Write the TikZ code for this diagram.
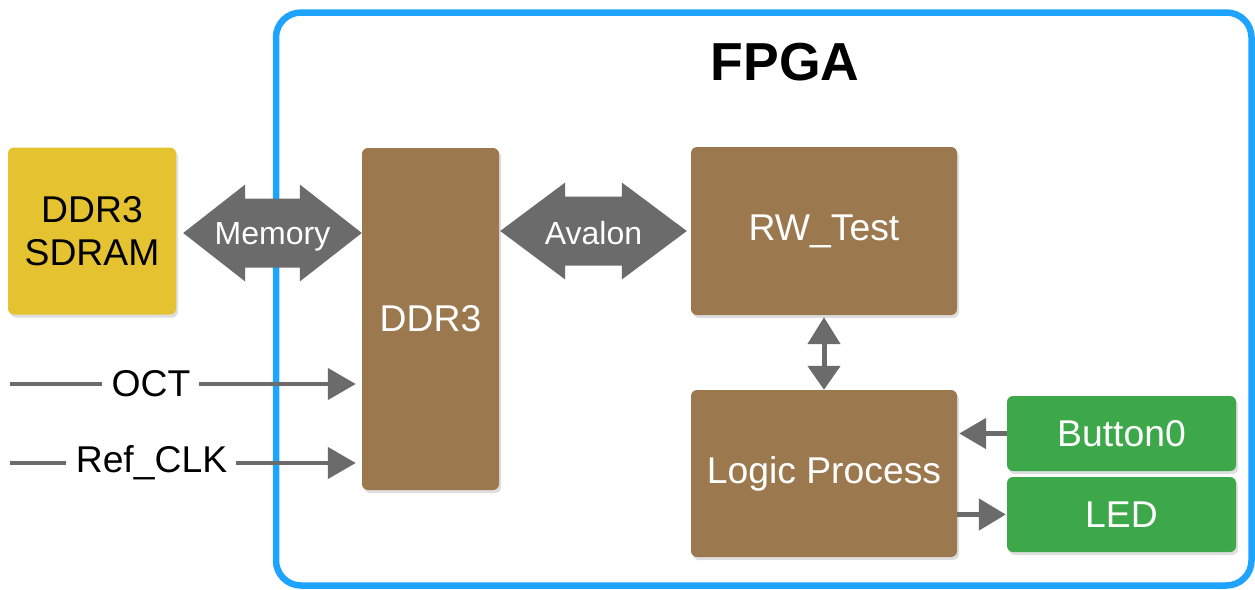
\documentclass[tikz,border=0pt]{standalone}
\usepackage{fontspec}
\setmainfont{Liberation Sans}
\usetikzlibrary{arrows.meta,calc,shadows}
\definecolor{goldbox}{HTML}{E5C230}
\definecolor{brownbox}{HTML}{9C784E}
\definecolor{greenbox}{HTML}{3DA84A}
\definecolor{arrowgray}{HTML}{6B6B6B}
\definecolor{fpgablue}{HTML}{1EA4FF}
\newcommand\fatdoublearrow[3]{%
  \fill[arrowgray] let \p1=(#1), \p2=(#2) in
    (\x1,\y1) -- (\x1+#3,\y1+48.5pt) -- (\x1+#3,\y1+34.5pt) -- (\x2-#3,\y1+34.5pt)
    -- (\x2-#3,\y1+48.5pt) -- (\x2,\y1) -- (\x2-#3,\y1-48.5pt) -- (\x2-#3,\y1-34.5pt)
    -- (\x1+#3,\y1-34.5pt) -- (\x1+#3,\y1-48.5pt) -- cycle;}
\tikzset{
  blk/.style={rounded corners=6pt, inner sep=0pt, align=center,
    font=\fontsize{37.3}{43}\selectfont,
    drop shadow={shadow xshift=2pt, shadow yshift=-3pt, opacity=.13, fill=black}},
  brownblk/.style={blk, fill=brownbox, text=white},
  greenblk/.style={blk, fill=greenbox, text=white},
  goldblk/.style={blk, fill=goldbox, text=black},
  sig/.style={line width=4.5pt, draw=arrowgray},
  sigarrow/.style={sig, -{Triangle[length=28pt,width=31pt]}},
  siglabel/.style={font=\fontsize{37.3}{43}\selectfont, inner sep=0pt},
  buslabel/.style={font=\fontsize{32}{38}\selectfont, text=white, inner sep=0pt},
}
\begin{document}
\begin{tikzpicture}[x=1pt,y=-1pt]
\useasboundingbox (0,0) rectangle (1255,589);
% FPGA frame
\draw[fpgablue, line width=6.5pt, rounded corners=25pt] (276,12.5) rectangle (1251.5,585.5);
\node[font=\fontsize{53.5}{60}\selectfont\bfseries] (title) at (785,62) {FPGA};
% blocks
\node[goldblk, minimum width=168pt, minimum height=167pt] (sdram) at (92,231) {DDR3\\SDRAM};
\node[brownblk, minimum width=137pt, minimum height=342pt] (ddr) at (430.5,319) {DDR3};
\node[brownblk, minimum width=266pt, minimum height=168pt] (rw) at (824,231) {RW\_Test};
\node[brownblk, minimum width=266pt, minimum height=167pt] (logic) at (824,473.5) {Logic Process};
\node[greenblk, minimum width=229pt, minimum height=75pt] (btn) at (1121.5,433.5) {Button0};
\node[greenblk, minimum width=229pt, minimum height=75pt] (led) at (1121.5,514.5) {LED};
% fat bus arrows
\coordinate (m1) at ($(sdram.east)+(7,2)$);
\coordinate (m2) at (ddr.west |- m1);
\fatdoublearrow{m1}{m2}{62pt}
\node[buslabel] (memlbl) at ($(m1)!0.5!(m2)+(0,4)$) {Memory};
\coordinate (a1) at ($(ddr.east)+(1,0)$);
\coordinate (a1) at (a1 |- rw.west);
\coordinate (a2) at ($(rw.west)+(-4,0)$);
\fatdoublearrow{a1}{a2}{65pt}
\node[buslabel] (avlbl) at ($(a1)!0.5!(a2)+(0,2)$) {Avalon};
% RW_Test <-> Logic Process
\draw[line width=5pt, draw=arrowgray,
  {Triangle[length=27pt,width=32pt]}-{Triangle[length=24pt,width=32pt]}]
  ($(rw.south)+(0,2)$) -- (logic.north);
% OCT and Ref_CLK
\coordinate (octstart) at (10,384);
\node[siglabel] (oct) at (151,384) {OCT};
\draw[sig] (octstart) -- ($(oct.west)+(-9,0)$);
\draw[sigarrow, shorten >=6pt] ($(oct.east)+(8,0)$) -- (ddr.west |- oct);
\coordinate (clkstart) at (10,463);
\node[siglabel] (clk) at (151.5,463) {Ref\_CLK};
\draw[sig] (clkstart) -- ($(clk.west)+(-10,0)$);
\draw[sigarrow, shorten >=6pt] ($(clk.east)+(9,0)$) -- (ddr.west |- clk);
% Button0 -> Logic, Logic -> LED
\draw[line width=5pt, draw=arrowgray, -{Triangle[length=27pt,width=30pt]}, shorten >=2pt]
  (btn.west) -- (logic.east |- btn.west);
\draw[line width=5pt, draw=arrowgray, -{Triangle[length=27pt,width=31pt]}, shorten >=1pt]
  (logic.east |- led.west) -- (led.west);
\end{tikzpicture}
\end{document}
